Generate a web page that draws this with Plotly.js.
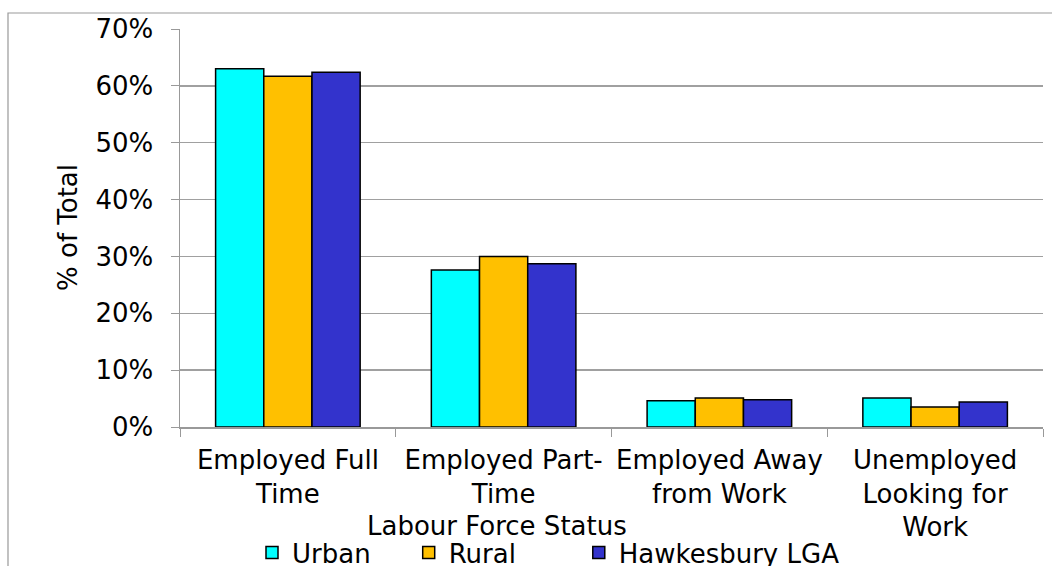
<!DOCTYPE html>
<html>
<head>
<meta charset="utf-8">
<script src="https://cdn.plot.ly/plotly-3.0.1.min.js"></script>
<style>html,body{margin:0;padding:0;background:#fff;}#chart{width:1052px;height:566px;}</style>
</head>
<body>
<div id="chart"></div>
<script>
const categories = ["Employed Full<br>Time", "Employed Part-<br>Time", "Employed Away<br>from Work", "Unemployed<br>Looking for<br>Work"];
const urban = [0.630, 0.276, 0.046, 0.051];
const rural = [0.617, 0.300, 0.051, 0.035];
const hawkesbury = [0.624, 0.287, 0.048, 0.044];
const seriesNames = ["Urban", "Rural", "Hawkesbury LGA"];
const seriesColors = ["#00FFFF", "#FFC000", "#3333CC"];
const yTicks = [0, 0.1, 0.2, 0.3, 0.4, 0.5, 0.6, 0.7];
const yTickText = ["0%", "10%", "20%", "30%", "40%", "50%", "60%", "70%"];

const FONT = "DejaVu Sans, Verdana, sans-serif";
const FS = 26;
const PAD = ["\u00a0\u00a0\u00a0\u00a0", "\u00a0\u00a0\u00a0\u00a0\u00a0\u00a0\u00a0", ""];
const data = [urban, rural, hawkesbury].map((vals, i) => ({
  type: "bar",
  name: seriesNames[i] + PAD[i],
  x: categories,
  y: vals,
  marker: {color: seriesColors[i], line: {color: "#000", width: 1.5}},
  hoverinfo: "none"
}));

const W = 1052, H = 566;
const L = 180, R = 1043, T = 29, B = 427;
const px = v => (v - L) / (R - L);
const py = v => (B - v) / (B - T);

const layout = {
  width: W, height: H,
  margin: {l: L, r: W - R, t: T, b: H - B, pad: 0},
  paper_bgcolor: "#fff", plot_bgcolor: "#fff",
  font: {family: FONT, size: FS, color: "#000"},
  barmode: "group",
  bargap: 0.33, bargroupgap: 0,
  showlegend: true,
  legend: {orientation: "h", xref: "container", yref: "container",
           x: 252 / W, xanchor: "left", y: (H - 529) / H, yanchor: "top",
           font: {family: FONT, size: FS, color: "#000"}, itemwidth: 30,
           traceorder: "normal", bgcolor: "rgba(0,0,0,0)"},
  xaxis: {
    type: "category",
    tickson: "boundaries",
    tickangle: 0,
    ticks: "outside", ticklen: 8, tickcolor: "#999", tickwidth: 1,
    showline: true, linecolor: "#999", linewidth: 1.5,
    showgrid: false,
    ticklabelstandoff: 9,
    tickfont: {family: FONT, size: FS, color: "#000"},
    automargin: false
  },
  yaxis: {
    range: [0, 0.7],
    tickvals: yTicks, ticktext: yTickText,
    ticks: "outside", ticklen: 8, tickcolor: "#999", tickwidth: 1,
    showline: true, linecolor: "#999", linewidth: 1.5,
    showgrid: true, gridcolor: "#a0a0a0", gridwidth: 1.5,
    zeroline: false,
    ticklabelstandoff: 12,
    tickfont: {family: FONT, size: FS, color: "#000"},
    automargin: false
  },
  annotations: [
    {text: "Labour Force Status", xref: "paper", yref: "paper", x: px(497), y: py(543),
     xanchor: "center", yanchor: "bottom", showarrow: false, font: {family: FONT, size: FS, color: "#000"}},
    {text: "% of Total", xref: "paper", yref: "paper", x: px(68), y: py(228), textangle: -90,
     xanchor: "center", yanchor: "middle", showarrow: false, font: {family: FONT, size: FS, color: "#000"}}
  ],
  shapes: [
    {type: "rect", xref: "paper", yref: "paper", x0: px(8), x1: px(1070), y0: py(590), y1: py(13),
     line: {color: "#999", width: 1.2}, fillcolor: "rgba(0,0,0,0)", layer: "below"}
  ]
};

Plotly.newPlot("chart", data, layout, {staticPlot: true});
</script>
</body>
</html>
